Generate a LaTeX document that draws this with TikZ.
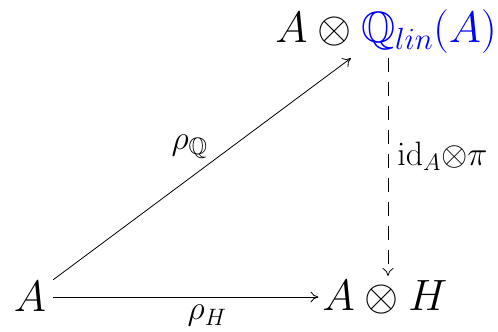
\RequirePackage{fix-cm}
\documentclass[tikz,border=0pt]{standalone}
\usepackage{amsmath,amssymb}
\usepackage{xcolor}
\usetikzlibrary{arrows.meta}
\begin{document}
\begin{tikzpicture}[x=1bp,y=-1bp,
  >={Computer Modern Rightarrow[length=8bp,width=11bp]},
  big/.style={font=\fontsize{44}{52}\selectfont, inner sep=4bp},
  lbl/.style={font=\fontsize{34}{40}\selectfont, inner sep=2bp},
  arr/.style={->, line width=0.8bp},
  darr/.style={->, line width=0.8bp, dash pattern=on 14bp off 10bp}]
\useasboundingbox (0,0) rectangle (498,331);
\node[big, inner xsep=7bp] (A1) at (30,297) {$A$};
\node[big] (AH) at (385,297) {$A\otimes H$};
\node[big] (AQ) at (386,32) {$A\otimes {\color{blue}\mathbb{Q}_{lin}(A)}$};
\draw[arr] (A1) -- node[lbl, pos=0.53, above left=1bp] {$\rho_{\mathbb{Q}}$} (AQ);
\draw[arr] (A1) -- node[lbl, pos=0.58, below=6bp] {$\rho_H$} (AH);
\draw[darr] ([xshift=2bp]AQ.south) -- node[lbl, pos=0.45, right=7bp] {$\mathrm{id}_A{\otimes}\pi$} ([xshift=2bp]AQ.south |- AH.north);
\end{tikzpicture}
\end{document}
